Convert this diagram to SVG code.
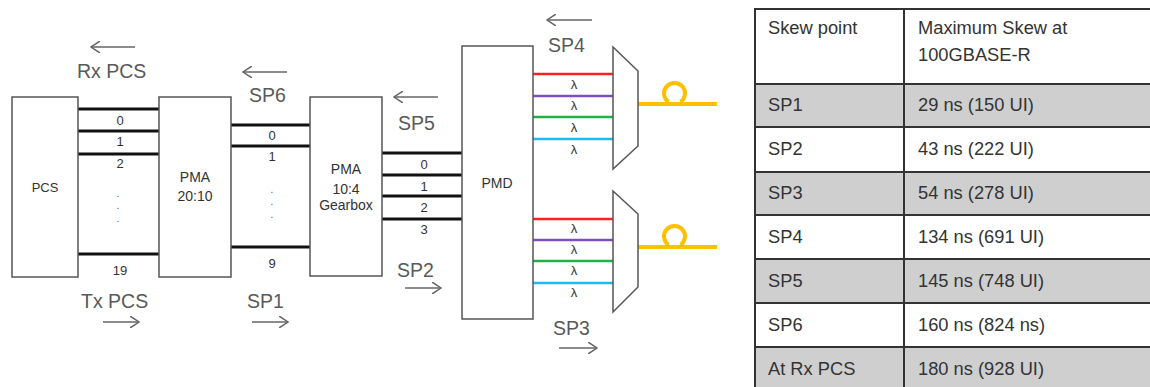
<svg xmlns="http://www.w3.org/2000/svg" width="1150" height="387" viewBox="0 0 1150 387">
<defs>
<style>
.box{fill:#fff;stroke:#555;stroke-width:1.5}
.bus{stroke:#111;stroke-width:3}
.lbl{font-family:"Liberation Sans",Arial,sans-serif;fill:#595959;font-size:19.5px}
.sm{font-family:"Liberation Sans",Arial,sans-serif;fill:#333;font-size:13px;text-anchor:middle}
.dot{font-family:"Liberation Sans",Arial,sans-serif;fill:#555;font-size:10px;text-anchor:middle}
.bt{font-family:"Liberation Sans",Arial,sans-serif;fill:#333;font-size:14px;text-anchor:middle}
.arr{stroke:#666;stroke-width:1.5;fill:none}
.fib{stroke:#FFC000;stroke-width:4;fill:none}
.mux{fill:#fff;stroke:#555;stroke-width:1.5}
.td{font-family:"Liberation Sans",Arial,sans-serif;fill:#333;font-size:18.3px}
.grid{stroke:#333;stroke-width:2}
</style>
<marker id="ah" viewBox="0 0 10 12" refX="9" refY="6" markerWidth="10" markerHeight="12" markerUnits="userSpaceOnUse" orient="auto">
<path d="M0,0 L9,6 L0,12" fill="none" stroke="#666" stroke-width="1.5"/>
</marker>
</defs>

<g id="connectors">
<g id="pcs-pma-bus">
<line class="bus" x1="78" y1="109" x2="159" y2="109"/>
<line class="bus" x1="78" y1="131" x2="159" y2="131"/>
<line class="bus" x1="78" y1="154" x2="159" y2="154"/>
<line class="bus" x1="78" y1="254" x2="159" y2="254"/>
<text class="sm" x="120" y="125">0</text>
<text class="sm" x="120" y="146">1</text>
<text class="sm" x="120" y="168">2</text>
<text class="dot" x="118" y="197">.</text>
<text class="dot" x="118" y="209">.</text>
<text class="dot" x="118" y="222">.</text>
<text class="sm" x="120" y="275">19</text>
</g>
<g id="pma-gear-bus">
<line class="bus" x1="231" y1="125" x2="310" y2="125"/>
<line class="bus" x1="231" y1="146" x2="310" y2="146"/>
<line class="bus" x1="231" y1="247" x2="310" y2="247"/>
<text class="sm" x="272" y="140">0</text>
<text class="sm" x="272" y="161">1</text>
<text class="dot" x="272" y="193">.</text>
<text class="dot" x="272" y="205">.</text>
<text class="dot" x="272" y="218">.</text>
<text class="sm" x="272" y="268">9</text>
</g>
<g id="gear-pmd-bus">
<line class="bus" x1="382" y1="153" x2="462" y2="153"/>
<line class="bus" x1="382" y1="175" x2="462" y2="175"/>
<line class="bus" x1="382" y1="196" x2="462" y2="196"/>
<line class="bus" x1="382" y1="219" x2="462" y2="219"/>
<text class="sm" x="424" y="169">0</text>
<text class="sm" x="424" y="191">1</text>
<text class="sm" x="424" y="212">2</text>
<text class="sm" x="424" y="234">3</text>
</g>
<g id="lambda-top">
<line x1="533" y1="74" x2="613" y2="74" stroke="#FF2020" stroke-width="2.5"/>
<line x1="533" y1="96" x2="613" y2="96" stroke="#7F4FBF" stroke-width="2.5"/>
<line x1="533" y1="117" x2="613" y2="117" stroke="#22B04A" stroke-width="2.5"/>
<line x1="533" y1="139" x2="613" y2="139" stroke="#22B8F0" stroke-width="2.5"/>
<text class="sm" x="574" y="89">λ</text>
<text class="sm" x="574" y="110">λ</text>
<text class="sm" x="574" y="132">λ</text>
<text class="sm" x="574" y="154">λ</text>
</g>
<g id="lambda-bottom">
<line x1="533" y1="219" x2="613" y2="219" stroke="#FF2020" stroke-width="2.5"/>
<line x1="533" y1="240" x2="613" y2="240" stroke="#7F4FBF" stroke-width="2.5"/>
<line x1="533" y1="261" x2="613" y2="261" stroke="#22B04A" stroke-width="2.5"/>
<line x1="533" y1="283" x2="613" y2="283" stroke="#22B8F0" stroke-width="2.5"/>
<text class="sm" x="574" y="233">λ</text>
<text class="sm" x="574" y="254">λ</text>
<text class="sm" x="574" y="275">λ</text>
<text class="sm" x="574" y="297">λ</text>
</g>
<g id="fibers">
<path class="fib" d="M638,104 H717 M674.5,104 m-6,-2 a10.5,10.5 0 1 1 12,0"/>
<path class="fib" d="M638,247 H717 M674.5,247 m-6,-2 a10.5,10.5 0 1 1 12,0"/>
</g>
<g id="direction-arrows">
<line class="arr" x1="135" y1="47" x2="91" y2="47" marker-end="url(#ah)"/>
<line class="arr" x1="287" y1="72" x2="243" y2="72" marker-end="url(#ah)"/>
<line class="arr" x1="438" y1="97" x2="394" y2="97" marker-end="url(#ah)"/>
<line class="arr" x1="592" y1="20" x2="547" y2="20" marker-end="url(#ah)"/>
<line class="arr" x1="103" y1="322" x2="139" y2="322" marker-end="url(#ah)"/>
<line class="arr" x1="252" y1="322" x2="288" y2="322" marker-end="url(#ah)"/>
<line class="arr" x1="405" y1="288" x2="441" y2="288" marker-end="url(#ah)"/>
<line class="arr" x1="559" y1="348" x2="597" y2="348" marker-end="url(#ah)"/>
</g>
</g>

<g id="labels">
<text class="lbl" x="77" y="78">Rx PCS</text>
<text class="lbl" x="249" y="102">SP6</text>
<text class="lbl" x="398" y="130">SP5</text>
<text class="lbl" x="548" y="52">SP4</text>
<text class="lbl" x="81" y="308">Tx PCS</text>
<text class="lbl" x="247" y="308">SP1</text>
<text class="lbl" x="397" y="277">SP2</text>
<text class="lbl" x="553" y="335">SP3</text>
</g>

<g id="node-pcs">
<rect class="box" x="12" y="97" width="66" height="180"/>
<text class="sm" x="45" y="192" font-size="12">PCS</text>
</g>
<g id="node-pma2010">
<rect class="box" x="159" y="97" width="72" height="180"/>
<text class="bt" x="195" y="182">PMA</text>
<text class="bt" x="195" y="201">20:10</text>
</g>
<g id="node-pma104">
<rect class="box" x="310" y="97" width="72" height="179"/>
<text class="bt" x="346" y="174">PMA</text>
<text class="bt" x="346" y="194">10:4</text>
<text class="bt" x="346" y="210" font-size="10.5">Gearbox</text>
</g>
<g id="node-pmd">
<rect class="box" x="462" y="46" width="71" height="273"/>
<text class="bt" x="497" y="188">PMD</text>
</g>
<g id="node-mux-top">
<path class="mux" d="M613,47 L638,71 L638,146 L613,169 Z"/>
</g>
<g id="node-mux-bottom">
<path class="mux" d="M613,191 L638,214 L638,287 L613,312 Z"/>
</g>

<g id="skew-table">
<rect x="755" y="9" width="400" height="74" fill="#fff"/>
<rect x="755" y="83" width="400" height="44" fill="#CFCFCF"/>
<rect x="755" y="127" width="400" height="45" fill="#fff"/>
<rect x="755" y="172" width="400" height="43" fill="#CFCFCF"/>
<rect x="755" y="215" width="400" height="44" fill="#fff"/>
<rect x="755" y="259" width="400" height="44" fill="#CFCFCF"/>
<rect x="755" y="303" width="400" height="44" fill="#fff"/>
<rect x="755" y="347" width="400" height="45" fill="#CFCFCF"/>
<line class="grid" x1="755" y1="9" x2="1150" y2="9"/>
<line class="grid" x1="755" y1="84" x2="1150" y2="84" stroke-width="3"/>
<line class="grid" x1="755" y1="127" x2="1150" y2="127"/>
<line class="grid" x1="755" y1="172" x2="1150" y2="172"/>
<line class="grid" x1="755" y1="215" x2="1150" y2="215"/>
<line class="grid" x1="755" y1="259" x2="1150" y2="259"/>
<line class="grid" x1="755" y1="303" x2="1150" y2="303"/>
<line class="grid" x1="755" y1="347" x2="1150" y2="347"/>
<line class="grid" x1="755" y1="8" x2="755" y2="387"/>
<line class="grid" x1="904" y1="8" x2="904" y2="387"/>
<text class="td" x="768" y="34">Skew point</text>
<text class="td" x="918" y="34">Maximum Skew at</text>
<text class="td" x="918" y="61">100GBASE-R</text>
<text class="td" x="768" y="111">SP1</text>
<text class="td" x="918" y="111">29 ns (150 UI)</text>
<text class="td" x="768" y="155">SP2</text>
<text class="td" x="918" y="155">43 ns (222 UI)</text>
<text class="td" x="768" y="199">SP3</text>
<text class="td" x="918" y="199">54 ns (278 UI)</text>
<text class="td" x="768" y="243">SP4</text>
<text class="td" x="918" y="243">134 ns (691 UI)</text>
<text class="td" x="768" y="287">SP5</text>
<text class="td" x="918" y="287">145 ns (748 UI)</text>
<text class="td" x="768" y="331">SP6</text>
<text class="td" x="918" y="331">160 ns (824 ns)</text>
<text class="td" x="768" y="375">At Rx PCS</text>
<text class="td" x="918" y="375">180 ns (928 UI)</text>
</g>
</svg>
